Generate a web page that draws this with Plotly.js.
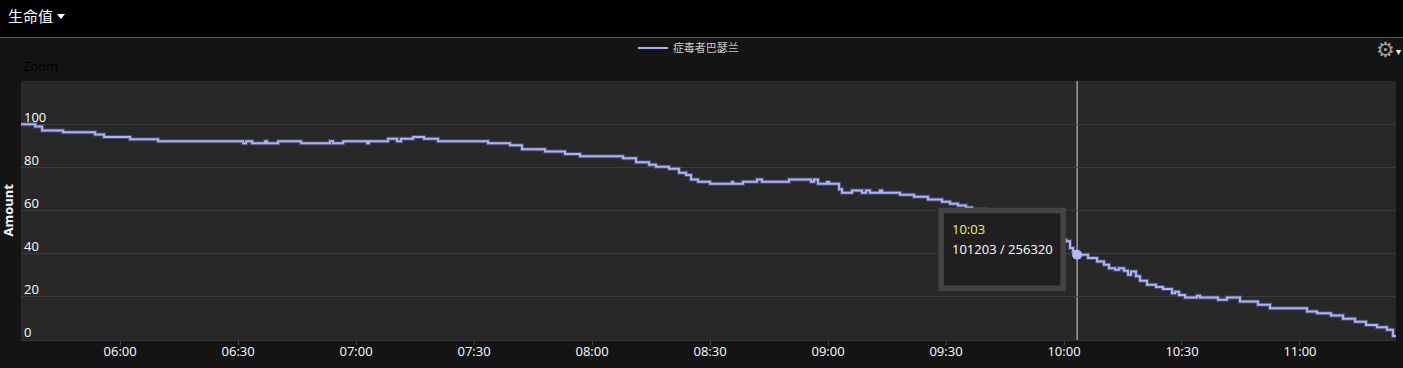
<!DOCTYPE html>
<html><head><meta charset="utf-8">
<script src="https://cdn.plot.ly/plotly-3.0.1.min.js"></script>
<style>
html,body{margin:0;padding:0;background:#141414;width:1403px;height:368px;overflow:hidden;}
#hdr{position:absolute;left:0;top:0;width:1403px;height:38px;z-index:5;background:#000;border-bottom:1px solid #555;color:#fff;font-family:"Noto Sans CJK SC","Open Sans",sans-serif;font-size:15px;line-height:32px;padding-left:8px;box-sizing:border-box;}
#caret{display:inline-block;width:0;height:0;border-left:4.5px solid transparent;border-right:4.5px solid transparent;border-top:5px solid #fff;vertical-align:middle;margin-left:4px;margin-bottom:2px;}
#chart{position:absolute;left:0;top:0;width:1403px;height:368px;}
</style></head>
<body>
<div id="hdr">生命值<span id="caret"></span></div>
<div id="chart"></div>
<script>
const seriesName = '症毒者巴瑟兰';
const day = '2024-01-01 ';
const times = [
 '05:34:48','05:38:24','05:40:11','05:45:30','05:53:38','05:55:56','06:02:33','06:09:40','06:31:16','06:32:02',
 '06:33:34','06:36:52','06:37:22','06:40:10','06:46:01','06:53:23','06:54:09','06:56:42','07:02:48','07:03:18',
 '07:08:08','07:10:25','07:11:26','07:14:29','07:17:17','07:20:51','07:33:34','07:39:09','07:42:12','07:48:03',
 '07:53:08','07:56:57','08:07:53','08:11:11','08:14:29','08:16:16','08:19:35','08:22:07','08:23:54','08:25:10',
 '08:26:57','08:30:00','08:35:36','08:35:51','08:38:23','08:41:57','08:43:13','08:50:05','08:55:41','08:56:26',
 '08:57:27','08:59:45','09:00:15','09:02:48','09:03:34','09:06:06','09:08:38','09:09:39','09:10:40','09:13:13',
 '09:13:43','09:18:18','09:21:52','09:25:26','09:28:59','09:31:02','09:33:03','09:35:05','09:36:37','09:39:55',
 '09:43:44','09:47:33','09:51:22','09:55:10','09:58:29','10:00:31','10:01:32','10:02:17','10:02:50','10:06:07',
 '10:08:24','10:10:10','10:11:26','10:12:58','10:13:59','10:15:15','10:16:16','10:17:02','10:18:18','10:19:19',
 '10:21:06','10:23:23','10:25:10','10:27:27','10:28:13','10:29:14','10:30:46','10:33:49','10:34:35','10:39:09',
 '10:41:26','10:44:45','10:49:19','10:52:23','11:01:47','11:04:20','11:07:53','11:10:56','11:13:59','11:16:47',
 '11:19:35','11:22:07','11:23:38','11:24:25'
];
const amounts = [
 100,98.9,97.1,96.3,95.2,94.1,93.0,92.1,91.2,92.1,
 91.2,92.1,91.2,92.1,91.2,92.1,91.2,92.1,91.2,92.1,
 93.2,92.1,93.2,94.1,93.2,92.1,91.2,90.2,88.4,87.3,
 86.2,85.1,84.2,82.3,81.2,80.3,79.4,77.5,76.4,74.4,
 73.3,72.4,73.2,72.4,73.3,74.4,73.3,74.4,73.3,74.4,
 72.4,73.2,72.4,69.8,68.2,69.3,68.2,69.3,68.2,69.3,
 68.2,67.3,66.4,65.1,64.0,63.1,62.3,61.4,60.5,58.6,
 56.7,54.4,51.6,48.4,46.5,45.7,42.6,41.1,39.48,38.0,
 36.4,34.9,33.3,32.6,33.3,32.1,30.2,31.7,29.5,27.4,
 25.6,24.5,23.6,21.7,22.3,20.9,19.7,20.5,19.7,18.6,
 19.7,17.8,16.3,14.7,13.2,12.4,11.3,9.8,8.5,7.0,
 5.9,4.7,1.9,1.9
];
const yTicks = [0,20,40,60,80,100];
const xTickStart = '06:00:00';
const hoverTime = '10:03:20';
const hoverLabel = '10:03';
const hoverCurrent = 101203;
const hoverMax = 256320;

const xs = times.map(t => day + t);
const hx = day + hoverTime;
const hy = hoverCurrent / hoverMax * 100;

const traces = [
  {x: xs, y: amounts, type:'scatter', mode:'lines', showlegend:false,
   line:{shape:'hv', color:'rgba(105,110,165,0.55)', width:4}, hoverinfo:'skip'},
  {x: xs, y: amounts, type:'scatter', mode:'lines', name: seriesName,
   line:{shape:'hv', color:'#adb1f7', width:2}, hoverinfo:'skip'},
  {x:[hx], y:[hy], type:'scatter', mode:'markers', showlegend:false,
   marker:{size:10, color:'#b3b7f7'}, hoverinfo:'skip'}
];

const layout = {
  width:1403, height:368,
  margin:{l:21, r:7, t:81, b:28},
  paper_bgcolor:'#141414', plot_bgcolor:'#282828',
  font:{family:'"Open Sans", "Noto Sans CJK SC", sans-serif', color:'#fff', size:13},
  showlegend:true,
  legend:{orientation:'h', x:0.445, xanchor:'left', y:1.127, yanchor:'middle',
          font:{size:11, color:'#cccccc', family:'"Noto Sans CJK SC", sans-serif'},
          bgcolor:'rgba(0,0,0,0)'},
  xaxis:{type:'date', range:[xs[0], xs[xs.length-1]], tick0: day + xTickStart, dtick:1800000,
         tickformat:'%H:%M', showgrid:false, zeroline:false, showline:true, linecolor:'#333',
         ticks:'outside', ticklen:4, tickcolor:'#444', ticklabelstandoff:-5,
         tickfont:{size:13, color:'#fff'}, fixedrange:true},
  yaxis:{range:[0,120], tickvals:yTicks, ticklabelposition:'inside top', ticklabelshift:2,
         ticklabeloverflow:'allow', gridcolor:'#3c3c3c',
         zeroline:false, showline:false, tickfont:{size:13, color:'#fff'}, fixedrange:true},
  shapes:[
    {type:'line', xref:'x', yref:'paper', x0:hx, x1:hx, y0:0, y1:1, line:{color:'#dddddd', width:1}, layer:'between'},
    {type:'rect', xref:'x', yref:'y', xsizemode:'pixel', ysizemode:'pixel', xanchor:hx, yanchor:hy,
     x0:-136, x1:-14, y0:-33.4, y1:44.3, line:{color:'#444444', width:5.5}, fillcolor:'#202020', layer:'above'}
  ],
  annotations:[
    {xref:'x', yref:'y', x:hx, y:hy, xanchor:'left', yanchor:'middle', xshift:-127.5, yshift:26,
     text:hoverLabel, showarrow:false, font:{size:13, color:'#eeee7a'}},
    {xref:'x', yref:'y', x:hx, y:hy, xanchor:'left', yanchor:'middle', xshift:-127.5, yshift:6,
     text:hoverCurrent + ' / ' + hoverMax, showarrow:false, font:{size:13, color:'#ffffff'}},
    {xref:'paper', yref:'paper', x:0, y:0.5, xanchor:'center', yanchor:'middle', xshift:-14, textangle:-90,
     borderpad:0, text:'<b>Amount</b>', showarrow:false, font:{size:13, color:'#ffffff'}},
    {xref:'paper', yref:'paper', x:0, y:1.058, xanchor:'left', yanchor:'middle', xshift:0,
     text:'Zoom', showarrow:false, font:{size:13, color:'#000000'}},
    {xref:'paper', yref:'paper', x:1, y:1.12, xanchor:'center', yanchor:'middle', xshift:-11,
     text:'⚙', showarrow:false, font:{size:21, color:'#a0a0a0', family:'"DejaVu Sans"'}},
    {xref:'paper', yref:'paper', x:1, y:1.112, xanchor:'center', yanchor:'middle', xshift:2,
     text:'▾', showarrow:false, font:{size:10, color:'#ffffff', family:'"DejaVu Sans"'}}
  ]
};
Plotly.newPlot('chart', traces, layout, {displayModeBar:false, staticPlot:true});
</script>
</body></html>
